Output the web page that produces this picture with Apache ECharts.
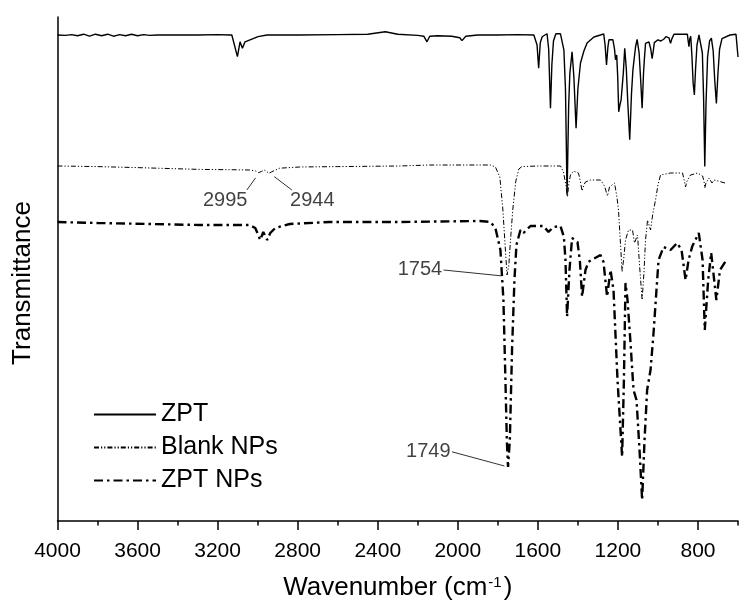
<!DOCTYPE html>
<html>
<head>
<meta charset="utf-8">
<script src="https://cdn.jsdelivr.net/npm/echarts@6/dist/echarts.min.js"></script>
<style>html,body{margin:0;padding:0;background:#fff}#c{width:753px;height:613px}</style>
</head>
<body>
<div id="c"></div>
<script>
// Wavenumber (cm-1) and transmittance (arbitrary units, offset traces)
const seriesNames = ['ZPT', 'Blank NPs', 'ZPT NPs'];
const xTickLabels = [4000, 3600, 3200, 2800, 2400, 2000, 1600, 1200, 800];
const xMinorTicks = [3800, 3400, 3000, 2600, 2200, 1800, 1400, 1000, 600];

const zpt = [[4000,121.5],[3960,121.4],[3930,121.6],[3900,121.3],[3870,121.7],[3840,121.2],[3810,121.7],[3780,121.3],[3750,121.7],[3720,121.2],[3690,121.6],[3660,121.3],[3630,121.7],[3600,121.3],[3570,121.6],[3540,121.4],[3500,121.5],[3450,121.5],[3400,121.5],[3300,121.5],[3200,121.6],[3140,121.5],[3129,121.5],[3122,122],[3101,116.1],[3088,119.8],[3076,118.2],[3063,119.8],[3038,120.3],[2998,121.1],[2953,121.5],[2800,121.5],[2600,121.6],[2450,121.7],[2362,122.3],[2300,121.7],[2200,121.4],[2170,121.2],[2154,119.8],[2140,121.2],[2100,121.3],[2030,121.2],[1990,120.8],[1979,120.1],[1960,121.2],[1900,121.5],[1800,121.5],[1700,121.6],[1620,121.5],[1612,121.5],[1604,119],[1596,113.2],[1588,119.5],[1579,121],[1565,121.5],[1554,121.8],[1546,118],[1537,103.2],[1530,114],[1522,120],[1510,121.8],[1487,121.8],[1470,117.8],[1462,108],[1454,81.5],[1446,104],[1440,112],[1429,117.3],[1420,111],[1409,98.2],[1400,108],[1387,114.5],[1370,117.5],[1354,119.5],[1320,121],[1287,121.5],[1271,121.8],[1264,119],[1257,114],[1250,118.5],[1245,120.3],[1225,120.3],[1217,118],[1212,115.3],[1206,116.5],[1201,111],[1196,102.3],[1190,104],[1184,105.3],[1179,104.8],[1173,112],[1166,118.2],[1158,113],[1151,105],[1141,95.3],[1132,107],[1125,112.8],[1112,118.5],[1104,120.4],[1094,117],[1086,110],[1079,103.2],[1072,112],[1068,115.3],[1062,119.4],[1045,119.8],[1036,118],[1029,115.6],[1022,118],[1018,119.6],[1000,120.3],[985,120],[979,119.6],[970,120.5],[960,121.1],[945,120.8],[937,119.4],[930,120.6],[920,121.7],[870,121.7],[853,121.7],[849,120],[845,118.6],[841,120.5],[836,121.2],[830,116],[824,109.4],[821,108],[818,106.5],[812,113],[805,119],[795,121.5],[787,121.7],[778,117],[772,106],[766,88.6],[760,104],[752,116],[742,120],[733,120.7],[724,117.5],[716,110],[708,104.4],[700,112],[692,118],[680,120.6],[671,121.1],[640,121.5],[610,121.7],[604,121.7],[600,116]];

const blankNPs = [[4000,88.75],[3800,88.6],[3640,88.4],[3500,88.2],[3290,87.9],[3100,87.8],[3040,87.75],[3010,87.5],[2995,87.1],[2980,87.4],[2967,87.75],[2955,87.4],[2944,86.9],[2930,87.3],[2890,88.2],[2790,88.5],[2600,88.6],[2290,88.75],[2140,89],[1900,89],[1837,89],[1812,88.5],[1790,86],[1775,78],[1765,70],[1754,61.5],[1745,64],[1737,70],[1725,78],[1710,85],[1695,88],[1680,88.6],[1600,88.75],[1487,88.75],[1472,87.25],[1460,84],[1452,81],[1445,84.5],[1437,86.5],[1422,87.5],[1397,87],[1388,85],[1379,82.5],[1370,84],[1362,84.75],[1337,85.25],[1287,85.25],[1267,83.75],[1252,81.25],[1242,83.5],[1237,84],[1217,84.5],[1205,81],[1197,77.75],[1188,70],[1179,62.25],[1170,66],[1162,70.25],[1147,72.75],[1127,72.75],[1117,69.5],[1102,71.5],[1092,64],[1079,55.25],[1070,62],[1062,70.25],[1052,75.25],[1037,72.75],[1025,77],[1012,80.25],[1000,84],[987,86.5],[937,87],[877,87],[868,85],[862,83.5],[855,85],[837,86.5],[802,87],[777,86.25],[770,85],[766,83.25],[760,84.5],[745,85.75],[740,85.5],[730,84.5],[720,85.25],[700,85],[665,84.5]];

const zptNPs = [[4000,74.75],[3800,74.5],[3540,74.25],[3290,74],[3040,74],[3012,73.25],[2997,71.5],[2987,70.25],[2972,72.25],[2952,70.25],[2937,72],[2912,73.25],[2840,74.25],[2640,74.75],[2290,74.75],[1890,75],[1837,74.75],[1812,73.25],[1787,67.75],[1772,55.25],[1762,35.25],[1755,20.25],[1749,13.5],[1740,20.25],[1729,42.75],[1717,60.25],[1707,69],[1687,72.75],[1672,72],[1637,73.75],[1572,73.75],[1547,72.25],[1522,73.5],[1487,73.75],[1470,71],[1462,65.25],[1454,51.1],[1442,62.75],[1429,70.75],[1402,69.75],[1390,65],[1379,56.1],[1362,62.75],[1347,64.8],[1287,66.5],[1272,64.75],[1254,56.1],[1237,62.75],[1222,57.75],[1202,35.25],[1179,16.1],[1170,35.25],[1162,59.5],[1152,55.25],[1137,44.5],[1122,32.75],[1107,30.25],[1092,17.75],[1079,5.25],[1067,20.25],[1054,32.75],[1037,37.75],[1022,47],[997,65.25],[972,68.5],[937,67.75],[904,69.5],[882,67.75],[862,60.25],[847,65.25],[829,68.6],[796,72],[777,65.25],[766,47.75],[749,60.25],[734,67],[708,55.25],[690,62.75],[658,65.25]];

// peak annotations: label text, label anchor, leader line start and end (data units)
const annotTexts = ['2995', '2944', '1754', '1749'];
const annotLabelAt = [[3162,80.1],[2727,80.1],[2073,63.0],[2031,17.4]];
const annotLabelPos = ['inside', 'inside', 'left', 'left'];
const annotLineFrom = [[3054,82.75],[2829,82.75],[2071,62.75],[2029,17.3]];
const annotLineTo = [[3010,85.8],[2917,86.1],[1784,61.3],[1767,13.75]];

const FONT = 'Liberation Sans, Arial, sans-serif';
const chart = echarts.init(document.getElementById('c'), null, {renderer: 'canvas'});

const leaderSeries = annotLineFrom.map((p, i) => ({
  type: 'line', xAxisIndex: 0, silent: true, symbol: 'none', animation: false,
  data: [p, annotLineTo[i]],
  lineStyle: {color: '#333', width: 1}, z: 5
}));

const labelSeries = {
  type: 'scatter', xAxisIndex: 0, silent: true, symbolSize: 0, animation: false,
  data: annotTexts.map((t, i) => ({
    name: t, value: annotLabelAt[i],
    label: {show: true, formatter: '{b}', position: annotLabelPos[i], distance: 1,
      color: '#111', fontSize: 20, fontFamily: FONT}
  }))
};

chart.setOption({
  animation: false,
  backgroundColor: '#fff',
  grid: {left: 57.5, right: 15, top: 17, bottom: 92, containLabel: false},
  legend: {
    data: seriesNames, orient: 'vertical', left: 93, top: 401,
    itemWidth: 62, itemHeight: 14, itemGap: 6, padding: 0,
    itemStyle: {color: 'rgba(0,0,0,0)', borderColor: 'rgba(0,0,0,0)', borderWidth: 0, opacity: 0},
    textStyle: {fontSize: 25, fontFamily: FONT, color: '#000', lineHeight: 27}
  },
  xAxis: [{
    type: 'value', inverse: true, min: 600, max: 4000,
    name: 'Wavenumber (cm{sup|-1})', nameLocation: 'middle', nameGap: 54,
    nameTextStyle: {
      fontSize: 26, fontFamily: FONT, color: '#000', verticalAlign: 'top',
      rich: {sup: {fontSize: 15, fontFamily: FONT, color: '#000', verticalAlign: 'top', padding: [0, 2, 10, 1]}}
    },
    axisLine: {show: true, lineStyle: {color: '#000', width: 1.5}},
    axisTick: {show: true, inside: false, length: 9, customValues: xTickLabels, lineStyle: {color: '#000', width: 1.5}},
    axisLabel: {show: true, customValues: xTickLabels, margin: 20, fontSize: 21, fontFamily: FONT, color: '#000',
      formatter: v => String(v)},
    splitLine: {show: false}
  }, {
    type: 'value', inverse: true, min: 600, max: 4000, position: 'bottom',
    axisLine: {show: false},
    axisTick: {show: true, inside: false, length: 4.5, customValues: xMinorTicks, lineStyle: {color: '#000', width: 1.5}},
    axisLabel: {show: false},
    splitLine: {show: false}
  }],
  yAxis: {
    type: 'value', min: 0, max: 126,
    name: 'Transmittance', nameLocation: 'middle', nameGap: 22,
    nameTextStyle: {fontSize: 26, fontFamily: FONT, color: '#000', padding: [0, 28, 0, 0]},
    axisLine: {show: true, lineStyle: {color: '#000', width: 1.5}},
    axisTick: {show: false}, axisLabel: {show: false}, splitLine: {show: false}
  },
  series: [
    {name: seriesNames[0], type: 'line', data: zpt, symbol: 'none', z: 4,
      lineStyle: {color: '#000', width: 1.4, type: 'solid'}, itemStyle: {color: '#000'}},
    {name: seriesNames[1], type: 'line', data: blankNPs, symbol: 'none', z: 3,
      lineStyle: {color: '#000', width: 1, type: [5, 2, 1.2, 2, 1.2, 2]}, itemStyle: {color: '#000'}},
    {name: seriesNames[2], type: 'line', data: zptNPs, symbol: 'none', z: 3,
      lineStyle: {color: '#000', width: 2.4, type: [9, 4, 2.5, 4]}, itemStyle: {color: '#000'}},
    ...leaderSeries,
    labelSeries
  ]
});
</script>
</body>
</html>
